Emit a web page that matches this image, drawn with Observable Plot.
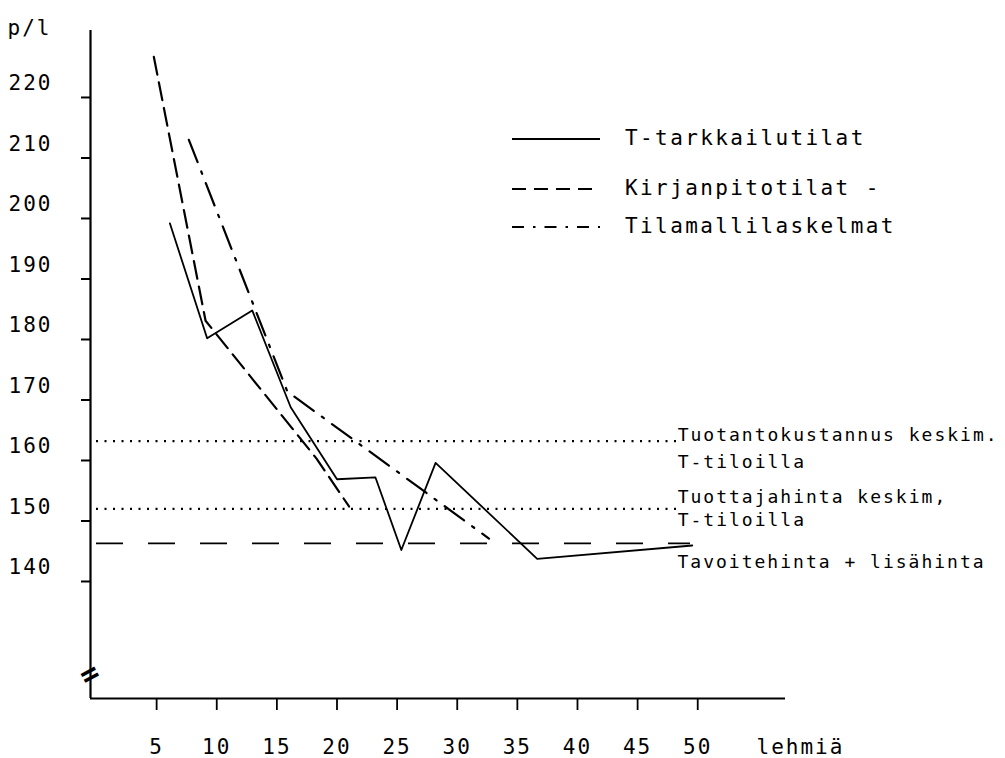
<!DOCTYPE html>
<html>
<head>
<meta charset="utf-8">
<script src="https://cdn.jsdelivr.net/npm/d3@7"></script>
<script src="https://cdn.jsdelivr.net/npm/@observablehq/plot@0.6"></script>
<style>
  html, body { margin: 0; padding: 0; background: #fff; }
  #wrap { position: relative; width: 1005px; height: 758px; overflow: hidden; }
  #wrap svg text { letter-spacing: 2px; }
  .lg { position: absolute; left: 512px; height: 30px; display: flex; align-items: center;
        font-family: "DejaVu Sans Mono", monospace; font-size: 21px; letter-spacing: 2.4px; color: #000; }
  .lg svg { margin-right: 25px; overflow: visible; }
</style>
</head>
<body>
<div id="wrap"></div>
<script>
// ---- data ----
// T-tarkkailutilat (solid)
const cowsT  = [6.1, 9.2, 12.95, 16.15, 20.0, 23.2, 25.35, 28.2, 36.65, 49.55];
const priceT = [199.2, 180.2, 184.8, 168.8, 156.9, 157.2, 145.2, 159.6, 143.75, 145.95];
// Kirjanpitotilat (dashed)
const cowsK  = [4.77, 9.07, 18.3, 21.0];
const priceK = [226.7, 183.1, 160.3, 152.4];
// Tilamallilaskelmat (dash-dot)
const cowsM  = [7.68, 15.87, 32.64];
const priceM = [213.0, 171.4, 147.1];

// reference levels
const refLabels = ["Tuotantokustannus keskim.\nT-tiloilla", "Tuottajahinta keskim,\nT-tiloilla", "Tavoitehinta + lisähinta"];
const refValues = [163.2, 152.0, 146.3];
const refEnds   = [48.33, 48.33, 49.4];

// axes
const xTicks = [5, 10, 15, 20, 25, 30, 35, 40, 45, 50];
const yTicks = [140, 150, 160, 170, 180, 190, 200, 210, 220];
const xDomain = [-0.5, 57.3];
const yDomain = [120.66, 231.07];
const yBreak = 124.7;
const xLabel = "lehmiä";
const yLabel = "p/l";
const legendNames = ["T-tarkkailutilat", "Kirjanpitotilat -", "Tilamallilaskelmat"];

// ---- build tables ----
const T = cowsT.map((x, i) => ({x, y: priceT[i]}));
const K = cowsK.map((x, i) => ({x, y: priceK[i]}));
const M = cowsM.map((x, i) => ({x, y: priceM[i]}));
const refs = refValues.map((v, i) => ({value: v, end: refEnds[i], label: refLabels[i], start: 0}));

const font = "DejaVu Sans Mono";

const chart = Plot.plot({
  width: 1005,
  height: 758,
  marginLeft: 90,
  marginRight: 220,
  marginTop: 30,
  marginBottom: 60,
  style: {fontFamily: font, fontSize: "21px", color: "#000", background: "#fff", overflow: "visible"},
  x: {domain: xDomain},
  y: {domain: yDomain},
  marks: [
    // axis lines
    Plot.ruleX([xDomain[0]], {strokeWidth: 2.2}),
    Plot.ruleY([yDomain[0]], {strokeWidth: 1.8}),
    // axis break
    Plot.text([yBreak], {x: xDomain[0], y: d => d, text: () => "=", rotate: -28, fontSize: 30, fontFamily: font, fill: "#000", fontWeight: "bold"}),
    // y ticks and labels
    Plot.axisY(yTicks, {fill: "none", tickSize: 9, strokeWidth: 2, label: null}),
    Plot.axisY(yTicks, {stroke: "none", tickSize: 9, tickPadding: 29, dy: -14, fontSize: 21, fontFamily: font, label: null}),
    // x ticks and labels
    Plot.axisX(xTicks, {tickSize: 12, tickPadding: 29, strokeWidth: 1.8, fontSize: 21, fontFamily: font, label: null}),
    Plot.text([xLabel], {frameAnchor: "bottom-right", textAnchor: "start", lineAnchor: "top", dx: -29, dy: 41, fontSize: 21, fontFamily: font, text: d => d}),
    Plot.text([yLabel], {frameAnchor: "top-left", textAnchor: "middle", dx: -61, dy: -10, fontSize: 21, fontFamily: font, text: d => d}),
    // reference lines
    Plot.ruleY(refs.slice(0, 2), {y: "value", x1: "start", x2: "end", strokeWidth: 2.2, strokeDasharray: "2,6.5"}),
    Plot.ruleY(refs.slice(2), {y: "value", x1: "start", x2: "end", strokeWidth: 1.8, strokeDasharray: "27,25"}),
    Plot.text(refs.slice(0, 1), {x: "end", y: "value", text: "label", textAnchor: "start", lineHeight: 1.53, dy: 4.7, fontSize: 18, fontFamily: font}),
    Plot.text(refs.slice(1, 2), {x: "end", y: "value", text: "label", textAnchor: "start", lineHeight: 1.3, dy: -1.6, fontSize: 18, fontFamily: font}),
    Plot.text(refs.slice(2), {x: "end", y: "value", text: "label", textAnchor: "start", dx: -13, dy: 18.7, fontSize: 18, fontFamily: font}),
    // series
    Plot.line(T, {x: "x", y: "y", stroke: "#000", strokeWidth: 1.8}),
    Plot.line(K, {x: "x", y: "y", stroke: "#000", strokeWidth: 2.2, strokeDasharray: "18,8"}),
    Plot.line(M, {x: "x", y: "y", stroke: "#000", strokeWidth: 2.2, strokeDasharray: "24,10,2.5,10"})
  ]
});

const wrap = document.getElementById("wrap");
wrap.appendChild(chart);

// legend (overlaid inside the plot area)
const legendStyles = [
  {dash: null},
  {dash: "14,8"},
  {dash: "12,9,2.5,9"}
];
const legendTops = [123, 173, 211];
legendNames.forEach((name, i) => {
  const row = document.createElement("div");
  row.className = "lg";
  row.style.top = legendTops[i] + "px";
  const ns = "http://www.w3.org/2000/svg";
  const s = document.createElementNS(ns, "svg");
  s.setAttribute("width", 88);
  s.setAttribute("height", 30);
  const l = document.createElementNS(ns, "line");
  l.setAttribute("x1", 0); l.setAttribute("x2", 88);
  l.setAttribute("y1", 16); l.setAttribute("y2", 16);
  l.setAttribute("stroke", "#000");
  l.setAttribute("stroke-width", 2);
  if (legendStyles[i].dash) l.setAttribute("stroke-dasharray", legendStyles[i].dash);
  s.appendChild(l);
  row.appendChild(s);
  const t = document.createElement("span");
  t.textContent = name;
  row.appendChild(t);
  wrap.appendChild(row);
});
</script>
</body>
</html>
